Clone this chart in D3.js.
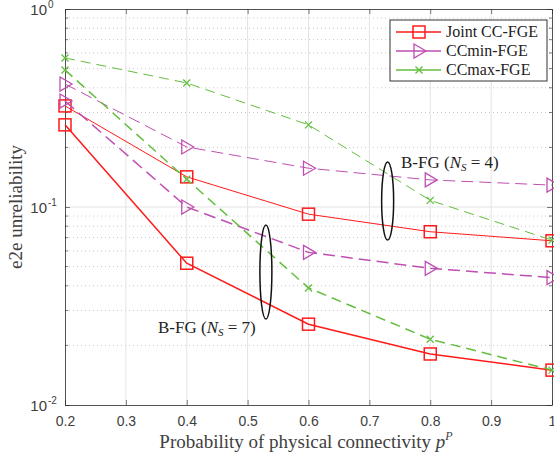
<!DOCTYPE html>
<html>
<head>
<meta charset="utf-8">
<script src="https://cdn.jsdelivr.net/npm/d3@7"></script>
<style>
    body { margin: 0; background: #fff; }
    svg { display: block; }
    .serif { font-family: "Liberation Serif", "DejaVu Serif", "Times New Roman", serif; }
    .sans { font-family: "Liberation Sans", "DejaVu Sans", Arial, sans-serif; }
</style>
</head>
<body>
<div id="chart"></div>
<script>
// data
const pValues = [0.2, 0.4, 0.6, 0.8, 1.0]
const xTicks = [0.2, 0.3, 0.4, 0.5, 0.6, 0.7, 0.8, 0.9, 1.0]
const yDecades = [0.01, 0.1, 1]

// B-FG (N_S = 4)
const jointNs4 = [0.324, 0.142, 0.092, 0.075, 0.0675]
const ccMinNs4 = [0.418, 0.201, 0.157, 0.137, 0.129]
const ccMaxNs4 = [0.566, 0.423, 0.26, 0.108, 0.068]
// B-FG (N_S = 7)
const jointNs7 = [0.26, 0.052, 0.0256, 0.0181, 0.015]
const ccMinNs7 = [0.343, 0.1, 0.059, 0.049, 0.044]
const ccMaxNs7 = [0.492, 0.138, 0.039, 0.0215, 0.015]

const seriesNames = ["Joint CC-FGE", "CCmin-FGE", "CCmax-FGE"]

const red = "#ff1a1a"
const magenta = "#bf4fb1"
const green = "#63be3d"

//dimensions
let dimensions = {
    width: 554,
    height: 454,
    margin: {top: 9, right: 2, bottom: 49, left: 65},
}
const plotRight = dimensions.width - dimensions.margin.right
const plotBottom = dimensions.height - dimensions.margin.bottom

//canvas
const wrapper = d3.select("#chart")
    .append("svg")
    .attr("width", dimensions.width)
    .attr("height", dimensions.height)
const bounds = wrapper.append("g")

//scales
const xScale = d3.scaleLinear()
    .domain([0.2, 1.0])
    .range([dimensions.margin.left, plotRight])
const yScale = d3.scaleLog()
    .domain([0.01, 1])
    .range([plotBottom, dimensions.margin.top])

// grid
const minorValues = []
for (let d of [0.01, 0.1]) {
    for (let k = 2; k <= 9; k++) minorValues.push(d * k)
}
bounds.append("g").selectAll("line")
    .data(minorValues)
    .join("line")
    .attr("x1", dimensions.margin.left)
    .attr("x2", plotRight)
    .attr("y1", d => yScale(d))
    .attr("y2", d => yScale(d))
    .attr("stroke", "#c8c8c8")
    .attr("stroke-width", 1)
    .attr("stroke-dasharray", "1,3")
bounds.append("g").selectAll("line")
    .data(yDecades.slice(1, 2))
    .join("line")
    .attr("x1", dimensions.margin.left)
    .attr("x2", plotRight)
    .attr("y1", d => yScale(d))
    .attr("y2", d => yScale(d))
    .attr("stroke", "#e3e3e3")
bounds.append("g").selectAll("line")
    .data(xTicks.slice(1, -1))
    .join("line")
    .attr("x1", d => xScale(d))
    .attr("x2", d => xScale(d))
    .attr("y1", dimensions.margin.top)
    .attr("y2", plotBottom)
    .attr("stroke", "#e3e3e3")

// axes
const axisColor = "#262626"
const labelColor = "#404040"
const xAxis = bounds.append("g")
    .attr("transform", "translate(0," + plotBottom + ")")
    .call(d3.axisBottom(xScale).tickValues(xTicks).tickSizeInner(-5).tickSizeOuter(0)
        .tickFormat(d => d === 1 ? "1" : d3.format(".1f")(d)))
const xAxisTop = bounds.append("g")
    .attr("transform", "translate(0," + dimensions.margin.top + ")")
    .call(d3.axisTop(xScale).tickValues(xTicks).tickSizeInner(-5).tickSizeOuter(0).tickFormat(""))
const yAxis = bounds.append("g")
    .attr("transform", "translate(" + dimensions.margin.left + ",0)")
    .call(d3.axisLeft(yScale).tickValues(yDecades).tickSizeInner(-5).tickSizeOuter(0).tickFormat(""))
const yAxisRight = bounds.append("g")
    .attr("transform", "translate(" + plotRight + ",0)")
    .call(d3.axisRight(yScale).tickValues(yDecades).tickSizeInner(-5).tickSizeOuter(0).tickFormat(""))
// minor ticks on y
for (let side of [0, 1]) {
    const x0 = side === 0 ? dimensions.margin.left : plotRight
    const dir = side === 0 ? 1 : -1
    bounds.append("g").selectAll("line")
        .data(minorValues)
        .join("line")
        .attr("x1", x0)
        .attr("x2", x0 + dir * 3)
        .attr("y1", d => yScale(d))
        .attr("y2", d => yScale(d))
        .attr("stroke", axisColor)
        .attr("stroke-width", 0.6)
}
for (let ax of [xAxis, xAxisTop, yAxis, yAxisRight]) {
    ax.select(".domain").attr("stroke", axisColor).attr("stroke-width", 0.8)
    ax.selectAll(".tick line").attr("stroke", axisColor).attr("stroke-width", 0.6)
}
xAxis.selectAll(".tick text")
    .attr("dy", null)
    .attr("y", 21)
    .attr("class", "sans")
    .attr("fill", labelColor)
    .style("font-size", "14px")

// y tick labels 10^k
const yLabels = bounds.append("g")
    .attr("class", "sans")
    .attr("fill", labelColor)
yLabels.selectAll("text")
    .data(yDecades)
    .join("text")
    .attr("x", 47)
    .attr("y", d => yScale(d) + 6)
    .attr("text-anchor", "end")
    .style("font-size", "15px")
    .text("10")
yLabels.selectAll("text.exp")
    .data(yDecades)
    .join("text")
    .attr("class", "exp")
    .attr("x", 48)
    .attr("y", d => yScale(d) - 1)
    .style("font-size", "10px")
    .text(d => Math.round(Math.log10(d)))

// axis labels
wrapper.append("text")
    .attr("class", "serif")
    .attr("transform", "translate(22," + (dimensions.margin.top + plotBottom) / 2 + ") rotate(-90)")
    .attr("text-anchor", "middle")
    .attr("fill", labelColor)
    .style("font-size", "19px")
    .text("e2e unreliability")
const xLabel = wrapper.append("text")
    .attr("class", "serif")
    .attr("x", 306)
    .attr("y", 448)
    .attr("text-anchor", "middle")
    .attr("fill", labelColor)
    .style("font-size", "19px")
xLabel.append("tspan").text("Probability of physical connectivity ")
xLabel.append("tspan").style("font-style", "italic").text("p")
xLabel.append("tspan").attr("dy", -8).style("font-size", "12px").style("font-style", "italic").text("P")

// lines
const lineGenerator = d3.line()
    .x((d, i) => xScale(pValues[i]))
    .y(d => yScale(d))

const series = [
    {values: jointNs4, color: red, dash: null, width: 1, marker: "square"},
    {values: ccMinNs4, color: magenta, dash: "12,6", width: 1, marker: "triangle"},
    {values: ccMaxNs4, color: green, dash: "10,6", width: 1, marker: "cross"},
    {values: jointNs7, color: red, dash: null, width: 1.5, marker: "square"},
    {values: ccMinNs7, color: magenta, dash: "12,6", width: 1.5, marker: "triangle"},
    {values: ccMaxNs7, color: green, dash: "10,6", width: 1.5, marker: "cross"},
]

function drawMarker(g, type, x, y, color) {
    if (type === "square") {
        g.append("rect")
            .attr("x", x - 6).attr("y", y - 6)
            .attr("width", 12).attr("height", 12)
            .attr("fill", "none").attr("stroke", color).attr("stroke-width", 1.5)
    } else if (type === "triangle") {
        g.append("path")
            .attr("d", "M" + (x - 5) + "," + (y - 7) + "L" + (x + 7) + "," + y + "L" + (x - 5) + "," + (y + 7) + "Z")
            .attr("fill", "none").attr("stroke", color).attr("stroke-width", 1.3)
    } else {
        g.append("path")
            .attr("d", "M" + (x - 3.5) + "," + (y - 3.5) + "L" + (x + 3.5) + "," + (y + 3.5) +
                "M" + (x - 3.5) + "," + (y + 3.5) + "L" + (x + 3.5) + "," + (y - 3.5))
            .attr("fill", "none").attr("stroke", color).attr("stroke-width", 1.3)
    }
}

for (let s of series) {
    bounds.append("path")
        .attr("d", lineGenerator(s.values))
        .attr("fill", "none")
        .attr("stroke", s.color)
        .attr("stroke-width", s.width)
        .attr("stroke-dasharray", s.dash)
    const mg = bounds.append("g")
    s.values.forEach((v, i) => drawMarker(mg, s.marker, xScale(pValues[i]), yScale(v), s.color))
}

// annotations
function annotate(x, y, n) {
    const t = wrapper.append("text")
        .attr("class", "serif")
        .attr("x", x).attr("y", y)
        .attr("fill", "#222")
        .style("font-size", "17px")
    t.append("tspan").text("B-FG (")
    t.append("tspan").style("font-style", "italic").text("N")
    t.append("tspan").attr("dy", 3).style("font-size", "11px").style("font-style", "italic").text("S")
    t.append("tspan").attr("dy", -3).text(" = " + n + ")")
}
annotate(401, 168, 4)
annotate(158, 333, 7)

bounds.append("ellipse")
    .attr("cx", xScale(0.73)).attr("cy", 201)
    .attr("rx", 6).attr("ry", 39)
    .attr("fill", "none").attr("stroke", "#111").attr("stroke-width", 1.5)
bounds.append("ellipse")
    .attr("cx", xScale(0.53)).attr("cy", 272)
    .attr("rx", 6).attr("ry", 47)
    .attr("fill", "none").attr("stroke", "#111").attr("stroke-width", 1.5)

// legend
const legend = wrapper.append("g")
legend.append("rect")
    .attr("x", 390).attr("y", 20)
    .attr("width", 157).attr("height", 61)
    .attr("fill", "#fff").attr("stroke", "#333").attr("stroke-width", 1)
const legendStyles = series.slice(0, 3)
seriesNames.forEach((name, i) => {
    const y = 32 + i * 19
    const s = legendStyles[i]
    legend.append("line")
        .attr("x1", 396).attr("x2", 441)
        .attr("y1", y).attr("y2", y)
        .attr("stroke", s.color).attr("stroke-width", 1.5)
    drawMarker(legend, s.marker, 419, y, s.color)
    legend.append("text")
        .attr("class", "serif")
        .attr("x", 446).attr("y", y + 5)
        .attr("fill", "#222")
        .style("font-size", "16px")
        .text(name)
})
</script>
</body>
</html>
